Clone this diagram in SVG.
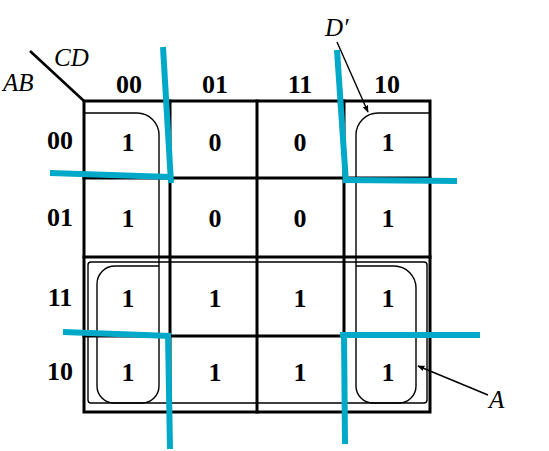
<svg xmlns="http://www.w3.org/2000/svg" width="549" height="451" viewBox="0 0 549 451">
  <defs>
    <marker id="arr" viewBox="0 0 10 10" refX="9" refY="5" markerWidth="7" markerHeight="7" orient="auto" markerUnits="userSpaceOnUse">
      <path d="M0,1 L10,5 L0,9 Z" fill="#000"/>
    </marker>
    <style>
      .thick { stroke: #000; stroke-width: 3; fill: none; stroke-linecap: square; }
      .thin { stroke: #000; stroke-width: 1.4; fill: none; }
      .blue { stroke: #00a9c8; stroke-width: 6; fill: none; stroke-linecap: butt; stroke-linejoin: miter; }
      .num { font-family: "Liberation Serif", "Times New Roman", serif; font-weight: bold; font-size: 26px; text-anchor: middle; fill: #000; }
      .var { font-family: "Liberation Serif", "Times New Roman", serif; font-style: italic; font-size: 25px; fill: #000; }
    </style>
  </defs>
  <rect width="549" height="451" fill="#fff"/>

  <g id="grid">
    <rect class="thick" x="84" y="101" width="346" height="311"/>
    <line class="thick" x1="170" y1="101" x2="170" y2="412"/>
    <line class="thick" x1="257" y1="101" x2="257" y2="412"/>
    <line class="thick" x1="344" y1="101" x2="344" y2="412"/>
    <line class="thick" x1="84" y1="178" x2="430" y2="178"/>
    <line class="thick" x1="84" y1="257" x2="430" y2="257"/>
    <line class="thick" x1="84" y1="336" x2="430" y2="336"/>
    <line x1="30" y1="51" x2="84" y2="101" stroke="#000" stroke-width="2.6"/>
  </g>

  <g id="axis-labels">
    <text class="var" x="54" y="66">CD</text>
    <text class="var" x="3" y="91">AB</text>
    <text class="num" x="129" y="93">00</text>
    <text class="num" x="215" y="93">01</text>
    <text class="num" x="300" y="93">11</text>
    <text class="num" x="387" y="93">10</text>
    <text class="num" x="60" y="149">00</text>
    <text class="num" x="60" y="226">01</text>
    <text class="num" x="60" y="306">11</text>
    <text class="num" x="60" y="380">10</text>
  </g>

  <g id="cells">
    <g id="row-00">
      <text class="num" x="128" y="151">1</text>
      <text class="num" x="215" y="151">0</text>
      <text class="num" x="300" y="151">0</text>
      <text class="num" x="388" y="151">1</text>
    </g>
    <g id="row-01">
      <text class="num" x="128" y="227">1</text>
      <text class="num" x="215" y="227">0</text>
      <text class="num" x="300" y="227">0</text>
      <text class="num" x="388" y="227">1</text>
    </g>
    <g id="row-11">
      <text class="num" x="128" y="307">1</text>
      <text class="num" x="215" y="307">1</text>
      <text class="num" x="300" y="307">1</text>
      <text class="num" x="388" y="307">1</text>
    </g>
    <g id="row-10">
      <text class="num" x="128" y="381">1</text>
      <text class="num" x="215" y="381">1</text>
      <text class="num" x="300" y="381">1</text>
      <text class="num" x="388" y="381">1</text>
    </g>
  </g>

  <g id="loops">
    <rect id="loop-A" class="thin" x="88" y="262" width="339" height="141" rx="3"/>
    <path id="loop-Dp-left" class="thin" d="M84,113 H137 A22,22 0 0 1 159,135 V386 A17,17 0 0 1 142,403 H114 A17,17 0 0 1 97,386 V284 A18,18 0 0 1 115,266 H159"/>
    <path id="loop-Dp-right" class="thin" d="M430,113 H378 A22,22 0 0 0 356,135 V386 A17,17 0 0 0 373,403 H399 A17,17 0 0 0 416,386 V288 A22,22 0 0 0 394,266 H356"/>
  </g>

  <g id="connectors">
    <line class="thin" x1="337" y1="42" x2="368" y2="112" marker-end="url(#arr)"/>
    <line class="thin" x1="488" y1="395" x2="418" y2="366" marker-end="url(#arr)"/>
  </g>

  <g id="loop-labels">
    <text class="var" x="325" y="36" font-size="22">D′</text>
    <text class="var" x="489" y="408">A</text>
  </g>

  <g id="blue-lines">
    <polyline class="blue" points="50,173 171,177"/>
    <polyline class="blue" points="163,47 171,183"/>
    <polyline class="blue" points="63,332 171,336"/>
    <polyline class="blue" points="168,334 170,449"/>
    <polyline class="blue" points="337,50 346,183"/>
    <polyline class="blue" points="343,180 457,181"/>
    <polyline class="blue" points="340,335 480,335"/>
    <polyline class="blue" points="344,333 345,444"/>
  </g>
</svg>
